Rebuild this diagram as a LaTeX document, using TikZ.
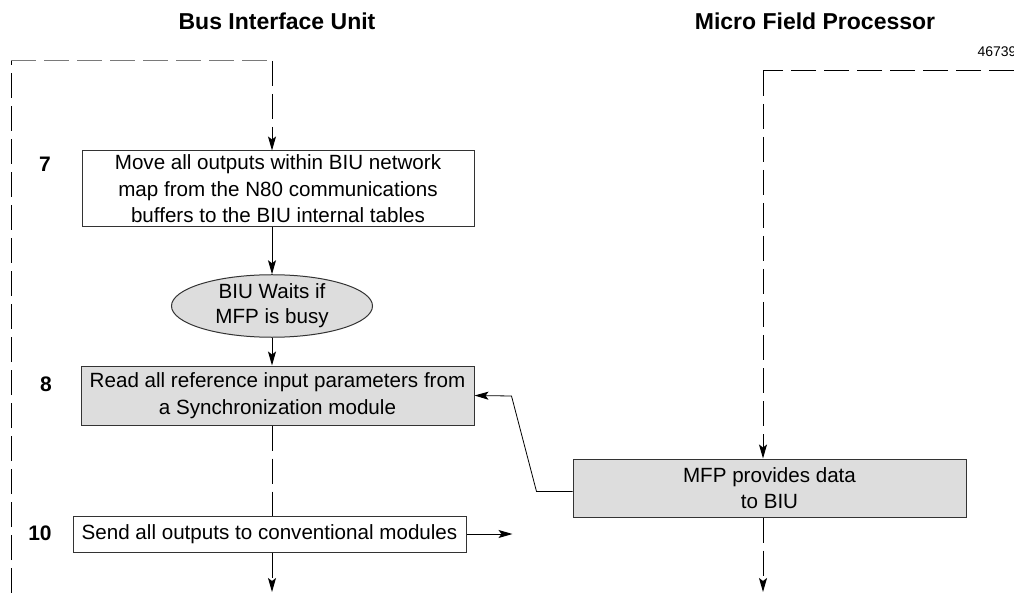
\documentclass[tikz,border=0pt]{standalone}
\usepackage{fontspec}
\setmainfont{Liberation Sans}
\usepackage{tikz}
\usetikzlibrary{shapes.geometric, arrows.meta, positioning, calc}
\definecolor{boxgray}{HTML}{DDDDDD}
\definecolor{edgecol}{HTML}{333333}
\definecolor{dashgray}{HTML}{7A7A7A}

\begin{document}
\begin{tikzpicture}[x=1pt, y=-1pt,
  box/.style={rectangle, draw=edgecol, fill=white, align=center, inner sep=0pt,
              line width=1pt, font=\fontsize{20.6}{26.5}\selectfont},
  shaded/.style={box, fill=boxgray},
  waitell/.style={ellipse, draw=edgecol, fill=boxgray, align=center, inner sep=0pt,
                  line width=1pt, font=\fontsize{20.6}{25}\selectfont},
  stepnum/.style={font=\fontsize{21}{24}\selectfont\bfseries},
  title/.style={font=\fontsize{23}{28}\selectfont\bfseries},
  arrow/.style={-{Stealth[length=14pt, width=8pt, inset=3pt]}, line width=1pt},
  flow/.style={dash pattern=on 25pt off 8pt, line width=1pt},
]
  \useasboundingbox (0,0) rectangle (1014,593);

  \node[title] (biu) at (277,21) {Bus Interface Unit};
  \node[title] (mfpt) at (815,21) {Micro Field Processor};
  \node[anchor=west, font=\fontsize{14}{16}\selectfont] (fig) at (974,52) {46739};

  % Bus Interface Unit column
  \node[box, minimum width=392pt, minimum height=76pt] (b7) at (278,189) {Move all outputs within BIU network\\map from the N80 communications\\buffers to the BIU internal tables};
  \node[waitell, minimum width=201pt, minimum height=58pt] (wait) at (272,306) {BIU Waits if\\MFP is busy};
  \node[shaded, minimum width=393pt, minimum height=59pt] (b8) at (277.5,395.5) {Read all reference input parameters from\\a Synchronization module};
  \node[box, minimum width=393pt, minimum height=36pt] (b10) at (269.5,534) {Send all outputs to conventional modules};

  \node[stepnum] (n7) at (45,164) {7};
  \node[stepnum] (n8) at (46,384) {8};
  \node[stepnum] (n10) at (40,533) {10};

  % Micro Field Processor column
  \node[shaded, minimum width=393pt, minimum height=58pt] (mfp) at (769.5,488) {MFP provides data\\to BIU};

  \coordinate (topL) at (272,61);
  \coordinate (cornerL) at (11,61);
  \coordinate (botL) at (11,593);
  \coordinate (outL) at (272,592);
  \coordinate (topR) at (1014,71);
  \coordinate (cornerR) at (763,71);
  \coordinate (outR) at (763,592);

  \draw[flow] (botL) -- (cornerL);
  \draw[flow, dashgray] (cornerL) -- (topL);
  \draw[flow, arrow] (topL) -- (topL |- b7.north);
  \draw[arrow] (topL |- b7.south) -- (wait.north);
  \draw[arrow] (wait.south) -- (wait.south |- b8.north);
  \draw[flow] (topL |- b8.south) -- (topL |- b10.north);
  \draw[flow, arrow] (topL |- b10.south) -- (outL);
  \draw[arrow] (b10.east) -- ++(46,0);

  \draw[flow] (topR) -- (cornerR);
  \draw[flow, arrow] (cornerR) -- (cornerR |- mfp.north);
  \draw[flow, arrow] (cornerR |- mfp.south) -- (outR);
  \draw[arrow, line width=0.8pt] ($(mfp.west)+(0,3.5)$) -- ++(-36,0) -- ++(-25,-95.5) -- (b8.east);
\end{tikzpicture}
\end{document}
